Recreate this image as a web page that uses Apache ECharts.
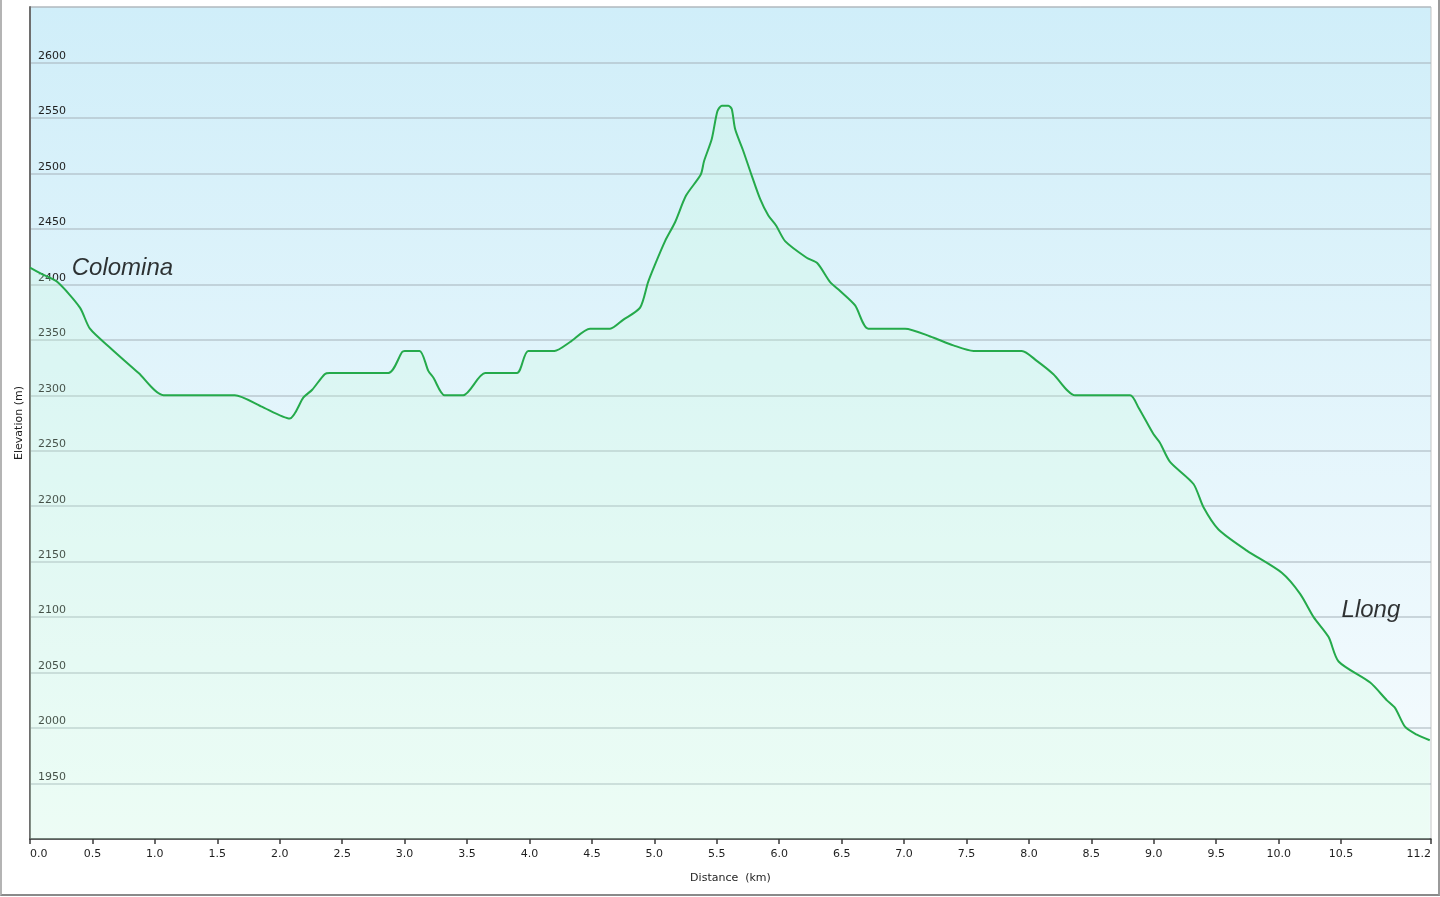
<!DOCTYPE html>
<html>
<head>
<meta charset="utf-8">
<script src="https://cdn.jsdelivr.net/npm/echarts@6/dist/echarts.min.js"></script>
<style>
html,body{margin:0;padding:0;background:#fff;}
#frame{position:absolute;left:0;top:0;width:1436px;height:894px;border-left:2px solid #b4b4b4;border-right:2px solid #9a9a9a;border-bottom:2px solid #8a8a8a;box-sizing:content-box;}
#chart{position:absolute;left:0;top:0;width:1440px;height:897px;}
</style>
</head>
<body>
<div id="frame"></div>
<div id="chart"></div>
<script>
// Distance along the route (km)
const distanceKm = [0.00,0.10,0.22,0.40,0.48,0.65,0.87,1.07,1.64,1.85,2.08,2.19,2.26,2.36,2.40,2.87,2.98,3.00,3.12,3.19,3.23,3.32,3.47,3.645,3.90,3.99,4.20,4.325,4.485,4.645,4.75,4.886,4.95,5.006,5.086,5.166,5.254,5.372,5.398,5.46,5.505,5.54,5.593,5.62,5.647,5.713,5.78,5.847,5.913,5.975,6.047,6.22,6.306,6.408,6.488,6.608,6.714,7.008,7.21,7.395,7.556,7.943,8.063,8.196,8.37,8.81,8.877,8.997,9.05,9.13,9.318,9.398,9.518,9.745,10.025,10.172,10.28,10.40,10.48,10.733,10.867,10.933,11.013,11.107,11.21];
// Elevation (m)
const elevationM = [2415,2409,2402,2379,2360,2342,2320,2300,2300,2290,2279,2298,2305,2319,2320,2320,2339,2340,2340,2322,2316,2300,2300,2320,2320,2340,2340,2348,2360,2360,2368,2379,2402,2418,2439,2456,2480,2499,2511,2531,2556,2561,2561,2558,2540,2520,2498,2477,2462,2453,2439,2424,2419,2402,2394,2381,2360,2360,2353,2345,2340,2340,2331,2319,2300,2300,2289,2265,2257,2240,2220,2199,2179,2160,2140,2121,2100,2082,2060,2041,2025,2018,2001,1994,1989];
// X tick values (km)
const xTicks = [0,0.5,1,1.5,2,2.5,3,3.5,4,4.5,5,5.5,6,6.5,7,7.5,8,8.5,9,9.5,10,10.5,11.22];
// Place names
const placeNames = ['Colomina','Llong'];
const placeKm = [0.33, 10.50];
const placeElev = [2414, 2106];

const chart = echarts.init(document.getElementById('chart'), null, {renderer:'canvas'});
const lbl = {fontFamily:'DejaVu Sans', fontSize:11, color:'#1e1e1e'};
chart.setOption({
  animation:false,
  grid:{left:30,right:9,top:7,bottom:58,show:true,borderColor:'#c4c4c4',borderWidth:1,
    backgroundColor:new echarts.graphic.LinearGradient(0,0,0,1,[{offset:0,color:'#d0eef9'},{offset:1,color:'#f7fcfe'}])},
  xAxis:{type:'value',min:0,max:11.22,interval:0.5,
    name:'Distance  (km)',nameLocation:'middle',nameGap:34,nameTextStyle:Object.assign({},lbl),
    axisLine:{show:true,onZero:false,lineStyle:{color:'#3a3a3a',width:1.5}},
    axisTick:{show:true,length:5,customValues:xTicks,lineStyle:{color:'#3a3a3a',width:1.5}},
    axisLabel:Object.assign({margin:10,customValues:xTicks,alignMinLabel:'left',alignMaxLabel:'right',
      formatter:v=>v.toFixed(1)},lbl),
    splitLine:{show:false}},
  yAxis:{type:'value',min:1900,max:2650,interval:50,
    name:'Elevation (m)',nameLocation:'middle',nameGap:5,nameMoveOverlap:false,nameRotate:90,nameTextStyle:Object.assign({},lbl),
    axisLine:{show:true,lineStyle:{color:'#6e6e6e',width:2}},
    axisTick:{show:false},
    axisLabel:Object.assign({inside:true,margin:8,showMinLabel:false,showMaxLabel:false,verticalAlign:'bottom',padding:[0,0,1,0],
      formatter:v=>String(v)},lbl),
    splitLine:{show:true,lineStyle:{color:'rgba(165,178,186,0.5)',width:2}}},
  series:[{
    type:'line',
    data:distanceKm.map((d,i)=>[d,elevationM[i]]),
    showSymbol:false,symbol:'none',smooth:0.25,
    lineStyle:{color:'#25aa4b',width:2},
    areaStyle:{color:'rgba(200,255,214,0.32)'}
  },{
    type:'scatter',
    data:placeNames.map((n,i)=>({name:n,value:[placeKm[i],placeElev[i]]})),
    symbolSize:1,itemStyle:{color:'rgba(0,0,0,0)'},silent:true,z:5,
    label:{show:true,position:'right',distance:0,formatter:p=>p.name,
      fontFamily:'Liberation Sans',fontStyle:'italic',fontSize:24,color:'#000',textBorderWidth:0}
  }]
});
</script>
</body>
</html>
